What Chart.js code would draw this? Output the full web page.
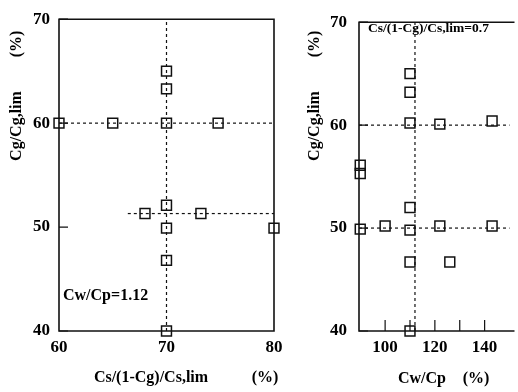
<!DOCTYPE html>
<html><head><meta charset="utf-8">
<script src="https://cdn.jsdelivr.net/npm/chart.js@4.4.1/dist/chart.umd.min.js"></script>
<style>
html,body{margin:0;padding:0;background:#fff;overflow:hidden;width:518px;height:392px}
#a{position:absolute;left:0;top:0}
#b{position:absolute;left:290px;top:0}
</style></head><body>
<canvas id="a" width="290" height="392" style="width:290px;height:392px"></canvas>
<canvas id="b" width="228" height="392" style="width:228px;height:392px"></canvas>
<script>
// ---- Left panel data: x = Cs/(1-Cg)/Cs,lim (%), y = Cg/Cg,lim (%)
const leftX = [60, 65, 70, 74.8, 70, 70, 70, 68, 73.2, 70, 70, 70, 80];
const leftY = [60, 60, 60, 60, 65, 63.3, 52.1, 51.3, 51.3, 49.9, 46.8, 40, 49.9];
const leftXTicks = [60, 70, 80];
const leftYTicks = [40, 50, 60, 70];
// dashed guide lines: [x1, y1, x2, y2]
const leftGuides = [[70, 40, 70, 70], [60, 60, 80, 60], [66.4, 51.3, 80, 51.3]];

// ---- Right panel data: x = Cw/Cp (%), y = Cg/Cg,lim (%)
const rightX = [110, 110, 110, 122, 143, 90, 90, 90, 100, 110, 110, 122, 143, 110, 126, 110];
const rightY = [65, 63.2, 60.2, 60.1, 60.4, 56.1, 55.3, 49.9, 50.2, 52, 49.8, 50.2, 50.2, 46.7, 46.7, 40];
const rightXTicks = [100, 120, 140];
const rightXMinor = [100, 110, 120, 130, 140];
const rightYTicks = [40, 50, 60, 70];
const rightGuides = [[112, 40, 112, 70], [89.5, 60, 150, 60], [89.5, 50, 150, 50]];

const FONT = '"Liberation Serif", "Times New Roman", serif';
const INK = '#111';

function pts(xs, ys) { return xs.map((x, i) => ({x: x, y: ys[i]})); }

function guideSets(g) {
  return g.map(s => ({
    data: [{x: s[0], y: s[1]}, {x: s[2], y: s[3]}],
    showLine: true, borderDash: [3, 3], borderWidth: 1.2, borderColor: INK,
    pointRadius: 0, pointHoverRadius: 0, fill: false, clip: false, order: 2
  }));
}

function makeChart(id, cfg) {
  const deco = {
    id: 'deco',
    afterDraw(chart) {
      const ctx = chart.ctx, a = chart.chartArea;
      const xs = chart.scales.x, ys = chart.scales.y;
      ctx.save();
      ctx.strokeStyle = INK; ctx.lineWidth = 1.6;
      ctx.beginPath();
      if (cfg.fullFrame) {
        ctx.rect(a.left, a.top, a.right - a.left, a.bottom - a.top);
      } else {
        ctx.moveTo(a.right + 5, a.top); ctx.lineTo(a.left, a.top);
        ctx.lineTo(a.left, a.bottom); ctx.lineTo(a.right + 5, a.bottom);
      }
      ctx.stroke();
      // inward ticks
      ctx.lineWidth = 1.2;
      ctx.beginPath();
      cfg.yTicks.forEach(v => { const p = ys.getPixelForValue(v); ctx.moveTo(a.left, p); ctx.lineTo(a.left + 9, p); });
      (cfg.xMinor || []).forEach(v => { const p = xs.getPixelForValue(v); ctx.moveTo(p, a.bottom); ctx.lineTo(p, a.bottom - 11); });
      ctx.stroke();
      // texts
      ctx.fillStyle = '#000';
      ctx.textBaseline = 'middle';
      cfg.texts.forEach(t => {
        ctx.save();
        ctx.font = 'bold ' + t.size + 'px ' + FONT;
        ctx.translate(t.x, t.y);
        if (t.rot) ctx.rotate(-Math.PI / 2);
        ctx.textAlign = t.align || 'center';
        ctx.fillText(t.s, 0, 0);
        ctx.restore();
      });
      ctx.restore();
    }
  };
  return new Chart(document.getElementById(id), {
    type: 'scatter',
    data: {
      datasets: [{
        data: cfg.points, pointStyle: 'rect', pointRadius: 7, pointHoverRadius: 7,
        borderColor: INK, borderWidth: 1.5, backgroundColor: 'rgba(0,0,0,0)', clip: false, order: 1
      }].concat(guideSets(cfg.guides))
    },
    options: {
      responsive: false, animation: false, devicePixelRatio: 1,
      layout: {padding: cfg.padding},
      plugins: {legend: {display: false}, tooltip: {enabled: false}},
      events: [],
      scales: {
        x: {
          type: 'linear', min: cfg.xMin, max: cfg.xMax,
          afterFit: s => { s.height = 61; },
          afterBuildTicks: s => { s.ticks = cfg.xTicks.map(v => ({value: v})); },
          grid: {display: false, drawTicks: false}, border: {display: false},
          ticks: {font: {family: FONT, size: 17, weight: 'bold'}, color: '#000', padding: 6,
                  maxRotation: 0, autoSkip: false, callback: v => String(v)}
        },
        y: {
          type: 'linear', min: 40, max: 70,
          afterFit: s => { s.width = cfg.yWidth; },
          afterBuildTicks: s => { s.ticks = cfg.yTicks.map(v => ({value: v})); },
          grid: {display: false, drawTicks: false}, border: {display: false},
          ticks: {font: {family: FONT, size: 17, weight: 'bold'}, color: '#000', padding: cfg.yPad,
                  autoSkip: false, callback: v => String(v)}
        }
      }
    },
    plugins: [deco]
  });
}

makeChart('a', {
  points: pts(leftX, leftY), guides: leftGuides,
  xMin: 60, xMax: 80, xTicks: leftXTicks, yTicks: leftYTicks,
  padding: {top: 12, right: 16, left: 0, bottom: 0}, yWidth: 59, yPad: 9, fullFrame: true,
  texts: [
    {s: 'Cg/Cg,lim', x: 17, y: 126, rot: true, size: 16},
    {s: '(%)', x: 17, y: 44, rot: true, size: 16},
    {s: 'Cs/(1-Cg)/Cs,lim', x: 151, y: 378, size: 16},
    {s: '(%)', x: 265, y: 378, size: 16},
    {s: 'Cw/Cp=1.12', x: 63, y: 296, size: 16, align: 'left'}
  ]
});

makeChart('b', {
  points: pts(rightX, rightY), guides: rightGuides,
  xMin: 89.5, xMax: 150, xTicks: rightXTicks, xMinor: rightXMinor, yTicks: rightYTicks,
  padding: {top: 12, right: 0, left: 0, bottom: 0}, yWidth: 69, yPad: 12, fullFrame: false,
  texts: [
    {s: 'Cg/Cg,lim', x: 25, y: 126, rot: true, size: 16},
    {s: '(%)', x: 25, y: 44, rot: true, size: 16},
    {s: 'Cw/Cp', x: 132, y: 379, size: 16},
    {s: '(%)', x: 186, y: 379, size: 16},
    {s: 'Cs/(1-Cg)/Cs,lim=0.7', x: 78, y: 29, size: 13.5, align: 'left'}
  ]
});
</script>
</body></html>
